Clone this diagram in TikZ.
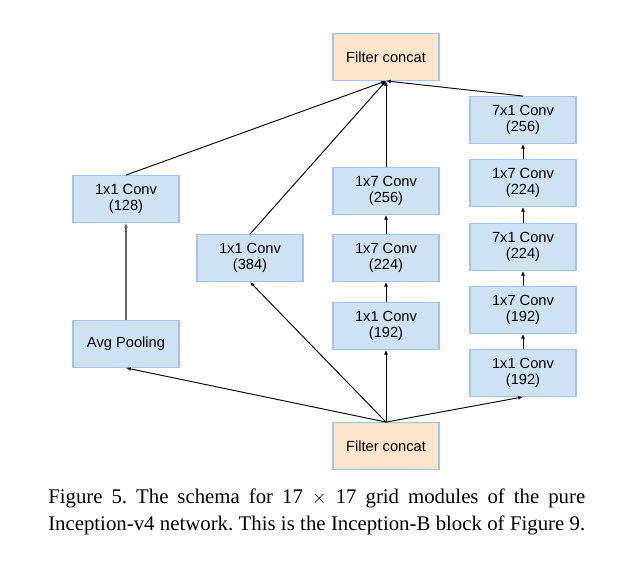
\documentclass[tikz,border=0pt]{standalone}
\usepackage{fontspec}
\setmainfont{Liberation Serif}
\newfontfamily\boxfont{Liberation Sans}
\usepackage{tikz}
\usetikzlibrary{arrows.meta}

\definecolor{convfill}{HTML}{CFE2F3}
\definecolor{catfill}{HTML}{FCE5CD}
\definecolor{boxline}{HTML}{A4C2F4}

\tikzset{
  layer/.style={draw=boxline, line width=0.9pt, fill=convfill, minimum width=79.5pt,
    minimum height=35pt, align=center, inner sep=0pt,
    font=\boxfont\fontsize{11}{12.5}\selectfont},
  concat/.style={layer, fill=catfill},
  flow/.style={-{Latex[length=3.6pt,width=3pt]}, line width=0.7pt}
}

\begin{document}
\frenchspacing
\begin{tikzpicture}[x=0.75pt, y=-0.75pt]
    \useasboundingbox (0,0) rectangle (620,562);

    % Input and output
    \node[concat] (B) at (386, 446) {Filter concat};
    \node[concat] (T) at (386, 57) {Filter concat};

    % First column of nodes
    \node[layer] (A1) at (126, 344) {Avg Pooling};
    \node[layer] (A2) at (126, 199) {1x1 Conv\\(128)};

    % Second column of nodes
    \node[layer] (C1) at (250, 258) {1x1 Conv\\(384)};

    % Third column of nodes
    \node[layer] (D1) at (386, 326) {1x1 Conv\\(192)};
    \node[layer] (D2) at (386, 258) {1x7 Conv\\(224)};
    \node[layer] (D3) at (386, 191) {1x7 Conv\\(256)};

    % Fourth column of nodes
    \node[layer] (E1) at (523, 373) {1x1 Conv\\(192)};
    \node[layer] (E2) at (523, 310) {1x7 Conv\\(192)};
    \node[layer] (E3) at (523, 247) {7x1 Conv\\(224)};
    \node[layer] (E4) at (523, 183) {1x7 Conv\\(224)};
    \node[layer] (E5) at (523, 120) {7x1 Conv\\(256)};

    % Edges from the input
    \draw[flow] (B.north) -- (A1.south);
    \draw[flow] (B.north) -- (C1.south);
    \draw[flow] (B.north) -- (D1.south);
    \draw[flow] (B.north) -- (E1.south);

    % Edges inside the columns
    \draw[flow, draw=black!60, line width=1pt] (A1) -- (A2);
    \draw[flow] (D1) -- (D2);
    \draw[flow] (D2) -- (D3);
    \draw[flow] (E1) -- (E2);
    \draw[flow] (E2) -- (E3);
    \draw[flow] (E3) -- (E4);
    \draw[flow] (E4) -- (E5);

    % Edges into the output
    \draw[flow] (A2.north) -- (T.south);
    \draw[flow] (C1.north) -- (T.south);
    \draw[flow] (D3.north) -- (T.south);
    \draw[flow] (E5.north) -- (T.south);

    % Caption
    \node[anchor=base west, inner sep=0pt, font=\fontsize{15.6}{20}\selectfont] (L1) at (48, 503)
      {\makebox[402.75pt][s]{Figure 5. The schema for 17 $\times$ 17 grid modules of the pure}};
    \node[anchor=base west, inner sep=0pt, font=\fontsize{15.6}{20}\selectfont] (L2) at (48, 530)
      {\makebox[402.75pt][s]{Inception-v4 network. This is the Inception-B block of Figure 9.}};
\end{tikzpicture}
\end{document}
